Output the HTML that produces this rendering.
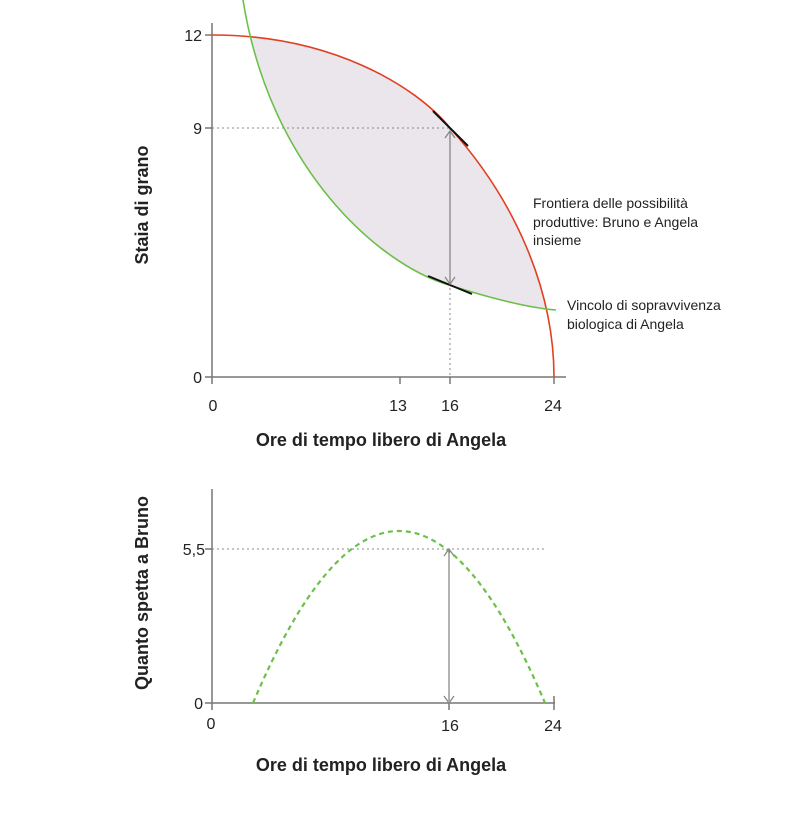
<!DOCTYPE html>
<html><head><meta charset="utf-8"><style>
html,body{margin:0;padding:0;background:#fff;}
svg{display:block;font-family:"Liberation Sans",sans-serif;}
</style></head><body>
<svg width="810" height="814" viewBox="0 0 810 814" xmlns="http://www.w3.org/2000/svg">
<defs>
<clipPath id="ag"><path d="M243,0 C270,170 380,265 449,285 C490,298 530,308 556,310 L810,310 L810,0 Z"/></clipPath>
</defs>
<path clip-path="url(#ag)" d="M212,35 C330,35 415,85 450,128 C515,200 554,290 554,377 L212,377 Z" fill="#ebe5ec"/>
<line x1="212" y1="128" x2="450" y2="128" stroke="#888" stroke-width="1" stroke-dasharray="2,3"/>
<line x1="450" y1="128" x2="450" y2="377" stroke="#888" stroke-width="1" stroke-dasharray="2,3"/>
<line x1="212" y1="23" x2="212" y2="384" stroke="#777" stroke-width="1.5"/>
<line x1="205" y1="377" x2="566" y2="377" stroke="#777" stroke-width="1.5"/>
<line x1="205" y1="35" x2="212" y2="35" stroke="#777" stroke-width="1.5"/>
<line x1="205" y1="128" x2="212" y2="128" stroke="#777" stroke-width="1.5"/>
<line x1="400" y1="377" x2="400" y2="384" stroke="#777" stroke-width="1.5"/>
<line x1="450" y1="377" x2="450" y2="384" stroke="#777" stroke-width="1.5"/>
<line x1="554" y1="377" x2="554" y2="384" stroke="#777" stroke-width="1.5"/>
<path d="M212,35 C330,35 415,85 450,128 C515,200 554,290 554,377" fill="none" stroke="#e0401f" stroke-width="1.6"/>
<path d="M243,0 C270,170 380,265 449,285 C490,298 530,308 556,310" fill="none" stroke="#6cc04a" stroke-width="1.6"/>
<line x1="433" y1="111" x2="468" y2="146" stroke="#111" stroke-width="2"/>
<line x1="428" y1="276" x2="472" y2="294" stroke="#111" stroke-width="2"/>
<line x1="450" y1="132" x2="450" y2="283" stroke="#888" stroke-width="1.3"/>
<polyline points="445,138 450,131 455,138" fill="none" stroke="#888" stroke-width="1.3"/>
<polyline points="445,277 450,284 455,277" fill="none" stroke="#888" stroke-width="1.3"/>
<g font-size="16" fill="#222">
<text x="202" y="41" text-anchor="end">12</text>
<text x="202" y="134" text-anchor="end">9</text>
<text x="202" y="383" text-anchor="end">0</text>
<text x="213" y="411" text-anchor="middle">0</text>
<text x="398" y="411" text-anchor="middle">13</text>
<text x="450" y="411" text-anchor="middle">16</text>
<text x="553" y="411" text-anchor="middle">24</text>
</g>
<text x="381" y="446" font-size="18" font-weight="bold" text-anchor="middle" fill="#222">Ore di tempo libero di Angela</text>
<text transform="translate(148,205) rotate(-90)" font-size="18" font-weight="bold" text-anchor="middle" fill="#222">Staia di grano</text>
<g font-size="14" fill="#222">
<text x="533" y="208">Frontiera delle possibilità</text>
<text x="533" y="227">produttive: Bruno e Angela</text>
<text x="533" y="245">insieme</text>
<text x="567" y="310">Vincolo di sopravvivenza</text>
<text x="567" y="329">biologica di Angela</text>
</g>
<line x1="212" y1="549" x2="545" y2="549" stroke="#888" stroke-width="1" stroke-dasharray="2,3"/>
<line x1="212" y1="489" x2="212" y2="710" stroke="#777" stroke-width="1.5"/>
<line x1="205" y1="703" x2="555" y2="703" stroke="#777" stroke-width="1.5"/>
<line x1="205" y1="549" x2="212" y2="549" stroke="#777" stroke-width="1.5"/>
<line x1="449" y1="703" x2="449" y2="710" stroke="#777" stroke-width="1.5"/>
<line x1="554" y1="696" x2="554" y2="710" stroke="#777" stroke-width="1.5"/>
<path d="M253,703 Q399,359 545,703" fill="none" stroke="#6cc04a" stroke-width="2.2" stroke-dasharray="5,4"/>
<line x1="449" y1="551" x2="449" y2="701" stroke="#888" stroke-width="1.3"/>
<polyline points="444,556 449,549 454,556" fill="none" stroke="#888" stroke-width="1.3"/>
<polyline points="444,696 449,703 454,696" fill="none" stroke="#888" stroke-width="1.3"/>
<g font-size="16" fill="#222">
<text x="205" y="555" text-anchor="end">5,5</text>
<text x="203" y="709" text-anchor="end">0</text>
<text x="211" y="729" text-anchor="middle">0</text>
<text x="450" y="731" text-anchor="middle">16</text>
<text x="553" y="731" text-anchor="middle">24</text>
</g>
<text x="381" y="771" font-size="18" font-weight="bold" text-anchor="middle" fill="#222">Ore di tempo libero di Angela</text>
<text transform="translate(148,593) rotate(-90)" font-size="18" font-weight="bold" text-anchor="middle" fill="#222">Quanto spetta a Bruno</text>
</svg>
</body></html>
